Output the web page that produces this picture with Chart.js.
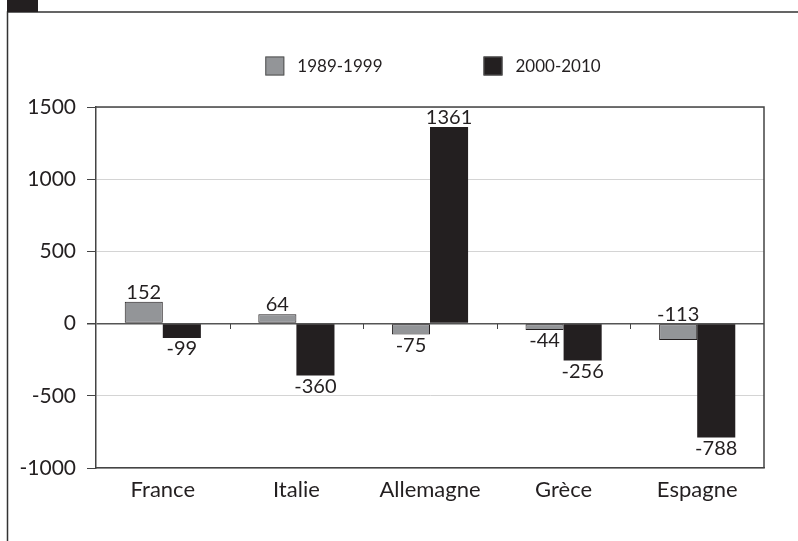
<!DOCTYPE html>
<html>
<head>
<meta charset="utf-8">
<script src="https://cdn.jsdelivr.net/npm/chart.js@4/dist/chart.umd.min.js"></script>
<style>
  html, body { margin: 0; padding: 0; background: #fff; }
  canvas { display: block; }
</style>
</head>
<body>
<canvas id="soldeChart" width="798" height="541"></canvas>
<script>
// Data
const countries = ['France', 'Italie', 'Allemagne', 'Grèce', 'Espagne'];
const period1Label = '1989-1999';
const period2Label = '2000-2010';
const period1Values = [152, 64, -75, -44, -113];
const period2Values = [-99, -360, 1361, -256, -788];
const yTicks = [1500, 1000, 500, 0, -500, -1000];

// which value labels sit above the zero line even though negative
const labelAbove = [
    [false, false, false, false, true],
    [false, false, false, false, false]
];

const INK = '#231f20';
const GREY = '#939598';
const FONT = 'Lato, "Open Sans", sans-serif';

const decorPlugin = {
    id: 'decor',
    beforeDraw(chart) {
        const ctx = chart.ctx;
        ctx.save();
        ctx.fillStyle = '#fff';
        ctx.fillRect(0, 0, chart.width, chart.height);
        // outer frame + corner tab
        ctx.strokeStyle = '#333';
        ctx.lineWidth = 1.5;
        ctx.beginPath();
        ctx.moveTo(7.5, chart.height);
        ctx.lineTo(7.5, 12);
        ctx.lineTo(chart.width, 12);
        ctx.stroke();
        ctx.fillStyle = INK;
        ctx.fillRect(7, 0, 31, 12);
        ctx.restore();
    },
    afterDatasetsDraw(chart) {
        const ctx = chart.ctx;
        const area = chart.chartArea;
        const x = chart.scales.x;
        const y = chart.scales.y;
        ctx.save();

        // top and right edges of the plot box
        ctx.strokeStyle = '#444';
        ctx.lineWidth = 1.5;
        ctx.beginPath();
        ctx.moveTo(area.left, area.top);
        ctx.lineTo(area.right, area.top);
        ctx.lineTo(area.right, area.bottom);
        ctx.stroke();

        // little ticks under the zero line between categories
        const zero = Math.round(y.getPixelForValue(0));
        ctx.lineWidth = 1;
        ctx.beginPath();
        for (let i = 1; i < countries.length; i++) {
            const bx = Math.round((x.getPixelForValue(i - 1) + x.getPixelForValue(i)) / 2) + 0.5;
            ctx.moveTo(bx, zero);
            ctx.lineTo(bx, zero + 5);
        }
        ctx.stroke();

        // value labels
        ctx.fillStyle = INK;
        ctx.font = '20px ' + FONT;
        ctx.textAlign = 'center';
        chart.data.datasets.forEach((ds, di) => {
            chart.getDatasetMeta(di).data.forEach((bar, i) => {
                const v = ds.data[i];
                if (v >= 0 || labelAbove[di][i]) {
                    ctx.textBaseline = 'alphabetic';
                    const top = Math.min(bar.y, bar.base);
                    ctx.fillText(String(v), bar.x, top - 3);
                } else {
                    ctx.textBaseline = 'top';
                    ctx.fillText(String(v), bar.x, bar.y + 1);
                }
            });
        });
        ctx.restore();
    },
    afterDraw(chart) {
        // legend
        const ctx = chart.ctx;
        const area = chart.chartArea;
        ctx.save();
        ctx.font = '17px ' + FONT;
        ctx.textBaseline = 'middle';
        ctx.textAlign = 'left';
        const box = 19, gap = 13, spacing = 101;
        const items = chart.data.datasets.map(ds => ({
            text: ds.label, fill: ds.backgroundColor, w: ctx.measureText(ds.label).width
        }));
        let total = 0;
        items.forEach((it, i) => { total += box + gap + it.w + (i ? spacing : 0); });
        let cx = (area.left + area.right) / 2 - total / 2 + 3;
        const cy = area.top - 41;
        items.forEach(it => {
            ctx.fillStyle = it.fill;
            ctx.fillRect(cx, cy - box / 2, box, box);
            ctx.strokeStyle = '#555';
            ctx.lineWidth = 1;
            ctx.strokeRect(cx + 0.5, cy - box / 2 + 0.5, box - 1, box - 1);
            ctx.fillStyle = INK;
            ctx.fillText(it.text, cx + box + gap, cy + 1);
            cx += box + gap + it.w + spacing;
        });
        ctx.restore();
    }
};

new Chart(document.getElementById('soldeChart'), {
    type: 'bar',
    data: {
        labels: countries,
        datasets: [
            {
                label: period1Label,
                data: period1Values,
                backgroundColor: GREY,
                borderColor: INK,
                borderWidth: 1,
                borderSkipped: false
            },
            {
                label: period2Label,
                data: period2Values,
                backgroundColor: INK,
                borderColor: INK,
                borderWidth: 0
            }
        ]
    },
    options: {
        responsive: false,
        animation: false,
        devicePixelRatio: 1,
        layout: {
            padding: { top: 107, right: 34, bottom: 0, left: 0 }
        },
        datasets: {
            bar: { categoryPercentage: 0.57, barPercentage: 1 }
        },
        plugins: {
            legend: { display: false },
            tooltip: { enabled: false }
        },
        scales: {
            x: {
                afterFit: function(scale) { scale.height = 73; },
                grid: { display: false, drawTicks: false },
                border: { display: true, color: '#444', width: 1.5 },
                ticks: {
                    color: INK,
                    font: { family: FONT, size: 22 },
                    padding: 9
                }
            },
            y: {
                min: -1000,
                max: 1500,
                afterFit: function(scale) { scale.width = 96; },
                afterBuildTicks: function(scale) {
                    scale.ticks = yTicks.map(v => ({ value: v }));
                },
                grid: {
                    color: ctx => (ctx.tick && ctx.tick.value === 0) ? '#555' : '#d4d4d4',
                    lineWidth: ctx => (ctx.tick && ctx.tick.value === 0) ? 1.5 : 1,
                    tickColor: '#444',
                    tickLength: 9
                },
                border: { display: true, color: '#444', width: 1.5 },
                ticks: {
                    color: INK,
                    font: { family: FONT, size: 21 },
                    padding: 11,
                    callback: v => String(v)
                }
            }
        }
    },
    plugins: [decorPlugin]
});
</script>
</body>
</html>
